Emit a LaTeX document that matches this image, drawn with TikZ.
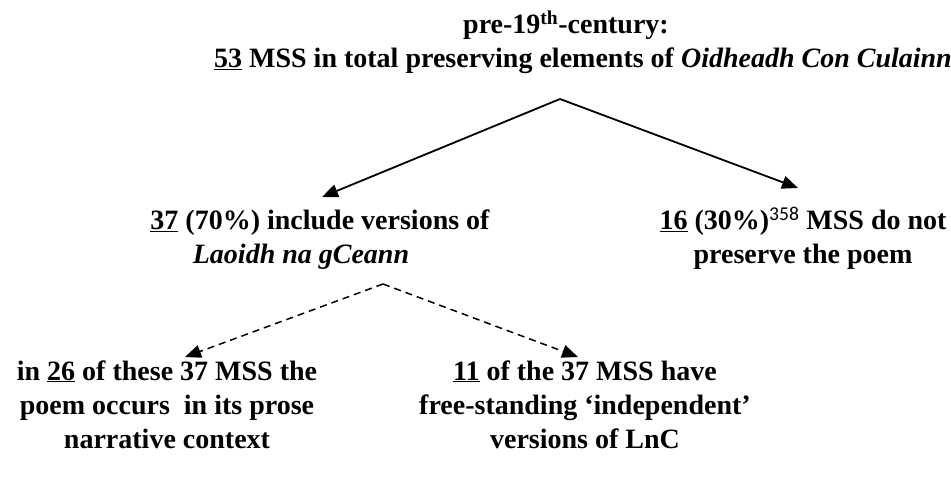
\documentclass[tikz,border=0pt]{standalone}
\usepackage{fontspec}
\setmainfont{Liberation Serif}
\newfontfamily\fnfont{Carlito}
\usetikzlibrary{arrows.meta}
\begin{document}
\begin{tikzpicture}[x=1pt,y=-1pt,
  txt/.style={font=\fontsize{28}{34}\selectfont\bfseries, align=center, inner sep=0pt, anchor=base},
  arr/.style={line width=1.8pt, -{Triangle[length=16pt,width=13pt]}},
  darr/.style={arr, line width=1.5pt, dash pattern=on 7pt off 5pt}]
\useasboundingbox (0,0) rectangle (951,478);
% anchor=base lies on the last line of each node
\node[txt] (top) at (583,68) {\hspace*{-34pt}pre-19\textsuperscript{th}-century:\\ \underline{53} MSS in total preserving elements of \textit{Oidheadh Con Culainn}};
\node[txt] (incl) at (320,264) {\underline{37} (70\%) include versions of\\ \hspace*{-38pt}\textit{Laoidh na gCeann}};
\node[txt] (nopre) at (803,264) {\underline{16} (30\%)\textsuperscript{\fnfont\mdseries 358} MSS do not\\ preserve the poem};
\node[txt] (prose) at (167,448) {in \underline{26} of these 37 MSS the\\ poem occurs\ \ in its prose\\ narrative context};
\node[txt] (indep) at (585,448) {\underline{11} of the 37 MSS have\\ free-standing `independent'\\ versions of LnC};
\coordinate (apexA) at (560,99);
\coordinate (tipA) at (322,197);
\coordinate (tipB) at (798,188);
\coordinate (apexB) at (383,284);
\coordinate (tipC) at (185,357);
\coordinate (tipD) at (578,357);
\draw[arr] (apexA) -- (tipA);
\draw[arr] (apexA) -- (tipB);
\draw[darr] (apexB) -- (tipC);
\draw[darr] (apexB) -- (tipD);
\end{tikzpicture}
\end{document}
